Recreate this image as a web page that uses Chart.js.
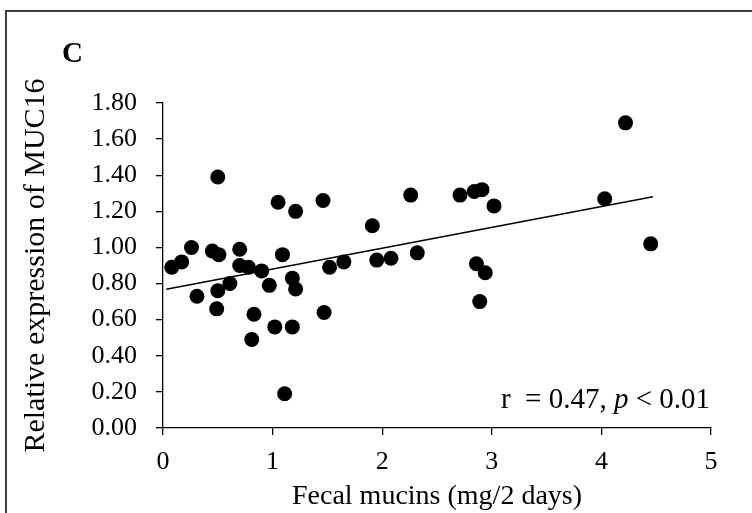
<!DOCTYPE html>
<html>
<head>
<meta charset="utf-8">
<script src="https://cdn.jsdelivr.net/npm/chart.js@4.4.1/dist/chart.umd.min.js"></script>
<style>
  html, body { margin: 0; padding: 0; background: #fff; }
  #wrap { width: 752px; height: 513px; position: relative; }
</style>
</head>
<body>
<div id="wrap"><canvas id="mucChart"></canvas></div>
<script>
// ========================== DATA ==========================
const mucinX = [0.08, 0.17, 0.26, 0.31, 0.45, 0.51, 0.50, 0.50, 0.49, 0.61,
                0.70, 0.70, 0.78, 0.83, 0.81, 0.90, 0.97, 1.05, 1.02, 1.09,
                1.11, 1.18, 1.21, 1.18, 1.21, 1.46, 1.52, 1.47, 1.65, 1.91,
                1.95, 2.08, 2.26, 2.32, 2.71, 2.84, 2.91, 3.02, 2.86, 2.94,
                2.89, 4.22, 4.03, 4.45];
const muc16Y = [0.89, 0.92, 1.00, 0.73, 0.98, 0.96, 1.39, 0.76, 0.66, 0.80,
                0.99, 0.90, 0.89, 0.63, 0.49, 0.87, 0.79, 1.25, 0.56, 0.96,
                0.19, 0.83, 0.77, 0.56, 1.20, 1.26, 0.89, 0.64, 0.92, 1.12,
                0.93, 0.94, 1.29, 0.97, 1.29, 1.31, 1.32, 1.23, 0.91, 0.86,
                0.70, 1.69, 1.27, 1.02];

// trend line ends
const trendX = [0.03, 4.47];
const trendY = [0.768, 1.281];

const xTicks = [0, 1, 2, 3, 4, 5];
const yTicks = [0, 0.2, 0.4, 0.6, 0.8, 1.0, 1.2, 1.4, 1.6, 1.8];

const panelLabel = "C";
const xTitle = "Fecal mucins (mg/2 days)";
const yTitle = "Relative expression of MUC16";

const SERIF = '"Liberation Serif", "Times New Roman", serif';

// ========================== HELPERS ==========================
function pairs(xs, ys){
  return xs.map((x, i) => ({ x: x, y: ys[i] }));
}

// frame, panel letter and r / p note
const extras = {
  id: "extras",
  beforeDraw(c){
    const ctx = c.ctx;
    ctx.save();
    ctx.strokeStyle = "#3c3c3c";
    ctx.lineWidth = 2;
    ctx.beginPath();
    ctx.moveTo(6, 520);
    ctx.lineTo(6, 11);
    ctx.lineTo(760, 11);
    ctx.stroke();
    ctx.restore();
  },
  afterDraw(c){
    const ctx = c.ctx;
    ctx.save();
    ctx.fillStyle = "#000";
    ctx.font = "bold 29px " + SERIF;
    ctx.textBaseline = "alphabetic";
    ctx.textAlign = "left";
    ctx.fillText(panelLabel, 62, 62);

    // r = 0.47, p < 0.01  (p in italics)
    const right = c.scales.x.getPixelForValue(5) - 1;
    const base = c.scales.y.getPixelForValue(0.11);
    const norm = "29px " + SERIF;
    const ital = "italic 29px " + SERIF;
    const parts = [["r  = 0.47, ", norm], ["p", ital], [" < 0.01", norm]];
    let total = 0;
    parts.forEach(p => { ctx.font = p[1]; total += ctx.measureText(p[0]).width; });
    let x = right - total;
    parts.forEach(p => {
      ctx.font = p[1];
      ctx.fillText(p[0], x, base);
      x += ctx.measureText(p[0]).width;
    });
    ctx.restore();
  }
};

// ========================== CHART ==========================
function initChart(){
  const ctx = document.getElementById("mucChart").getContext("2d");
  new Chart(ctx, {
    type: "scatter",
    data: {
      datasets: [
        {
          label: "MUC16",
          data: pairs(mucinX, muc16Y),
          backgroundColor: "#000",
          borderWidth: 0,
          pointRadius: 7.5,
          pointHoverRadius: 7.5
        },
        {
          type: "line",
          label: "trend",
          data: pairs(trendX, trendY),
          borderColor: "#000",
          borderWidth: 1.6,
          pointRadius: 0,
          fill: false
        }
      ]
    },
    options: {
      responsive: true,
      maintainAspectRatio: false,
      devicePixelRatio: 1,
      animation: false,
      layout: { padding: { top: 103, right: 41, left: 0, bottom: 0 } },
      plugins: { legend: { display: false }, tooltip: { enabled: false } },
      scales: {
        x: {
          type: "linear",
          min: 0, max: 5,
          afterFit: s => { s.height = 85; },
          afterBuildTicks: s => { s.ticks = xTicks.map(v => ({ value: v })); },
          border: { color: "#000", width: 1.3 },
          grid: { drawOnChartArea: false, drawTicks: true, tickLength: 7, color: "#000", lineWidth: 1.3 },
          ticks: {
            color: "#000",
            padding: 12,
            font: { family: SERIF, size: 26 },
            callback: v => String(v)
          },
          title: {
            display: true,
            text: xTitle,
            color: "#000",
            font: { family: SERIF, size: 28 },
            padding: { top: 0, bottom: 0 }
          }
        },
        y: {
          type: "linear",
          min: 0, max: 1.8,
          afterFit: s => { s.width = 163; },
          afterBuildTicks: s => { s.ticks = yTicks.map(v => ({ value: v })); },
          border: { color: "#000", width: 1.3 },
          grid: { drawOnChartArea: false, drawTicks: true, tickLength: 7, color: "#000", lineWidth: 1.3 },
          ticks: {
            color: "#000",
            padding: 19,
            font: { family: SERIF, size: 26 },
            callback: v => Number(v).toFixed(2)
          },
          title: {
            display: true,
            text: yTitle,
            color: "#000",
            font: { family: SERIF, size: 30 },
            padding: { top: 18, bottom: 0 }
          }
        }
      }
    },
    plugins: [extras]
  });
}

// ========================== INITIALIZE ==========================
window.onload = initChart;
</script>
</body>
</html>
